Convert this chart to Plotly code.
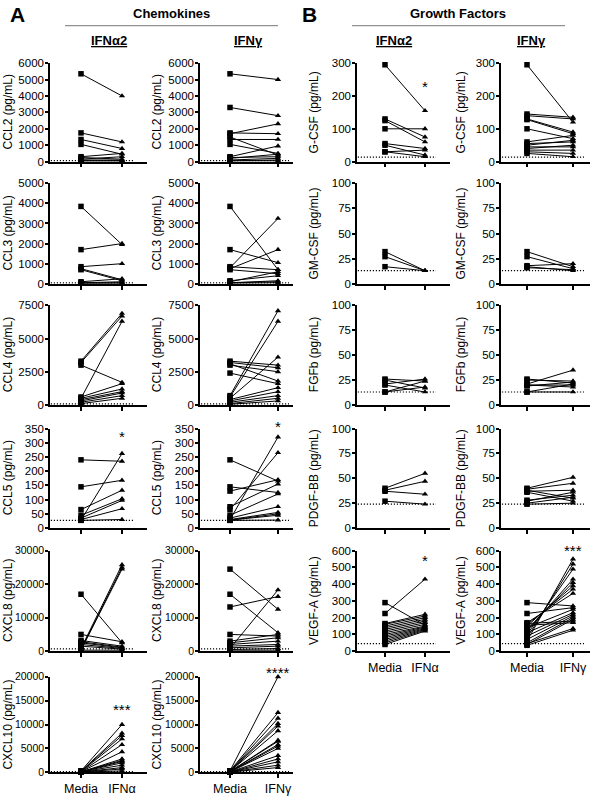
import plotly.graph_objects as go

W, H = 597, 800
FONT = "Arial, Liberation Sans, sans-serif"

# ---------------- data (pg/mL) ----------------
ccl2_a_media = [5350, 1750, 1350, 1050, 300, 250, 150, 100, 50, 50]
ccl2_a_ifn = [4000, 1200, 800, 450, 500, 150, 300, 100, 50, 50]
ccl2_g_media = [5350, 3300, 1750, 1700, 1500, 1350, 1050, 300, 250, 200, 100, 50, 50]
ccl2_g_ifn = [5000, 2800, 1700, 2300, 400, 1350, 500, 950, 300, 450, 200, 100, 50]

ccl3_a_media = [3850, 1700, 850, 750, 700, 100, 50, 30, 30]
ccl3_a_ifn = [1950, 2000, 1000, 200, 150, 250, 100, 50, 30]
ccl3_g_media = [3850, 1700, 850, 800, 750, 700, 150, 100, 50, 50, 30]
ccl3_g_ifn = [700, 1050, 700, 3250, 1700, 500, 400, 600, 150, 100, 50]

ccl4_a_media = [3300, 3200, 3000, 500, 600, 500, 400, 300, 200, 100]
ccl4_a_ifn = [6900, 6700, 1700, 6300, 1600, 1200, 1000, 900, 700, 500]
ccl4_g_media = [700, 600, 3300, 3200, 3100, 3000, 2400, 500, 400, 300, 200, 100, 50]
ccl4_g_ifn = [7100, 6300, 3000, 2800, 1800, 2500, 1600, 3600, 1300, 1000, 700, 500, 300]

ccl5_a_media = [240, 145, 28, 65, 45, 35, 30, 27]
ccl5_a_ifn = [235, 168, 262, 133, 103, 97, 68, 30]
ccl5_g_media = [30, 65, 75, 240, 145, 130, 45, 35, 30, 28, 28, 27]
ccl5_g_ifn = [320, 265, 155, 165, 125, 170, 120, 75, 55, 50, 45, 28]

cxcl8_a_media = [17000, 5000, 800, 500, 300, 3200, 2800, 2500, 2000, 1500, 300]
cxcl8_a_ifn = [2500, 2800, 25800, 25000, 24500, 1500, 1200, 1000, 800, 600, 300]
cxcl8_g_media = [24500, 17000, 13200, 800, 5000, 3000, 2500, 2000, 1500, 1000, 500, 300]
cxcl8_g_ifn = [12500, 5500, 16300, 18300, 4500, 5000, 4000, 3000, 2000, 1500, 800, 300]

cxcl10_a_media = [300, 250, 200, 200, 150, 150, 100, 100, 100, 80, 60, 50, 50, 50]
cxcl10_a_ifn = [10000, 8200, 7700, 7000, 5800, 4300, 2800, 2500, 2300, 2000, 1500, 1000, 700, 300]
cxcl10_g_media = [300, 300, 250, 250, 200, 200, 150, 150, 100, 100, 100, 80, 60, 50, 50, 50]
cxcl10_g_ifn = [20000, 12500, 11300, 10200, 9700, 8700, 6700, 6500, 5800, 5500, 5000, 3500, 2800, 2200, 1500, 1000]

gcsf_a_media = [295, 130, 125, 100, 55, 50, 30, 30]
gcsf_a_ifn = [155, 75, 60, 100, 40, 20, 35, 15]
gcsf_g_media = [295, 145, 140, 130, 128, 100, 60, 55, 50, 45, 40, 35, 30, 25]
gcsf_g_ifn = [120, 135, 130, 90, 85, 70, 80, 60, 65, 45, 50, 35, 25, 15]

gmcsf_a_media = [32, 27, 17]
gmcsf_a_ifn = [13, 13, 13]
gmcsf_g_media = [32, 27, 18, 17, 16]
gmcsf_g_ifn = [17, 15, 20, 13, 14]

fgfb_a_media = [26, 25, 21, 20, 13, 13]
fgfb_a_ifn = [24, 17, 26, 13, 18, 24]
fgfb_g_media = [26, 25, 21, 20, 20, 19, 13, 13]
fgfb_g_ifn = [22, 24, 35, 20, 18, 23, 13, 21]

pdgf_a_media = [40, 38, 37, 27]
pdgf_a_ifn = [55, 47, 34, 24]
pdgf_g_media = [40, 39, 38, 37, 36, 28, 27, 25, 24]
pdgf_g_ifn = [51, 45, 30, 38, 27, 33, 36, 31, 25]

vegf_a_media = [225, 290, 165, 160, 150, 140, 130, 120, 110, 100, 90, 80, 70, 60, 50, 40]
vegf_a_ifn = [430, 155, 220, 210, 200, 190, 180, 170, 160, 150, 145, 140, 135, 130, 125, 120]
vegf_g_media = [60, 80, 100, 120, 130, 150, 160, 170, 290, 225, 140, 110, 90, 70, 50, 40, 165, 155, 45, 35]
vegf_g_ifn = [550, 520, 490, 430, 410, 390, 370, 345, 270, 260, 250, 230, 220, 210, 200, 190, 180, 170, 135, 125]

# limits of detection (dotted lines)
lod_ccl2, lod_ccl3, lod_ccl4, lod_ccl5, lod_cxcl8, lod_cxcl10 = 60, 40, 80, 27, 700, 150
lod_gcsf, lod_gmcsf, lod_fgfb, lod_pdgf, lod_vegf = 14, 13, 13, 24, 45

ticklabels_a = ["Media", "IFNα"]
ticklabels_g = ["Media", "IFNγ"]

# (col, row, y title, media, ifn, lod, ymax, dtick, star text, star y)
panels = [
    (0, 0, "CCL2 (pg/mL)", ccl2_a_media, ccl2_a_ifn, lod_ccl2, 6000, 1000, None, None),
    (1, 0, "CCL2 (pg/mL)", ccl2_g_media, ccl2_g_ifn, lod_ccl2, 6000, 1000, None, None),
    (0, 1, "CCL3 (pg/mL)", ccl3_a_media, ccl3_a_ifn, lod_ccl3, 5000, 1000, None, None),
    (1, 1, "CCL3 (pg/mL)", ccl3_g_media, ccl3_g_ifn, lod_ccl3, 5000, 1000, None, None),
    (0, 2, "CCL4 (pg/mL)", ccl4_a_media, ccl4_a_ifn, lod_ccl4, 7500, 2500, None, None),
    (1, 2, "CCL4 (pg/mL)", ccl4_g_media, ccl4_g_ifn, lod_ccl4, 7500, 2500, None, None),
    (0, 3, "CCL5 (pg/mL)", ccl5_a_media, ccl5_a_ifn, lod_ccl5, 350, 50, "*", 322),
    (1, 3, "CCL5 (pg/mL)", ccl5_g_media, ccl5_g_ifn, lod_ccl5, 350, 50, "*", 358),
    (0, 4, "CXCL8 (pg/mL)", cxcl8_a_media, cxcl8_a_ifn, lod_cxcl8, 30000, 10000, None, None),
    (1, 4, "CXCL8 (pg/mL)", cxcl8_g_media, cxcl8_g_ifn, lod_cxcl8, 30000, 10000, None, None),
    (0, 5, "CXCL10 (pg/mL)", cxcl10_a_media, cxcl10_a_ifn, lod_cxcl10, 20000, 5000, "***", 13200),
    (1, 5, "CXCL10 (pg/mL)", cxcl10_g_media, cxcl10_g_ifn, lod_cxcl10, 20000, 5000, "****", 20900),
    (2, 0, "G-CSF (pg/mL)", gcsf_a_media, gcsf_a_ifn, lod_gcsf, 300, 100, "*", 230),
    (3, 0, "G-CSF (pg/mL)", gcsf_g_media, gcsf_g_ifn, lod_gcsf, 300, 100, None, None),
    (2, 1, "GM-CSF (pg/mL)", gmcsf_a_media, gmcsf_a_ifn, lod_gmcsf, 100, 25, None, None),
    (3, 1, "GM-CSF (pg/mL)", gmcsf_g_media, gmcsf_g_ifn, lod_gmcsf, 100, 25, None, None),
    (2, 2, "FGFb (pg/mL)", fgfb_a_media, fgfb_a_ifn, lod_fgfb, 100, 25, None, None),
    (3, 2, "FGFb (pg/mL)", fgfb_g_media, fgfb_g_ifn, lod_fgfb, 100, 25, None, None),
    (2, 3, "PDGF-BB (pg/mL)", pdgf_a_media, pdgf_a_ifn, lod_pdgf, 100, 25, None, None),
    (3, 3, "PDGF-BB (pg/mL)", pdgf_g_media, pdgf_g_ifn, lod_pdgf, 100, 25, None, None),
    (2, 4, "VEGF-A (pg/mL)", vegf_a_media, vegf_a_ifn, lod_vegf, 600, 100, "*", 540),
    (3, 4, "VEGF-A (pg/mL)", vegf_g_media, vegf_g_ifn, lod_vegf, 600, 100, "***", 600),
]
bottom_rows = {0: 5, 1: 5, 2: 4, 3: 4}

# ---------------- layout geometry (pixels) ----------------
# per column: y-axis x, Media x, IFN x, x-axis end
col_px = [(50, 81, 122, 147), (200, 230, 278, 293), (357, 385, 425, 450), (501, 527, 573, 590)]
row_px = [(58, 158), (180, 282), (304, 405), (429, 530), (553, 655), (681, 778)]
ytitle_x = [8, 157, 314, 461]

fig = go.Figure()
annotations = []
shapes = []
for k, (c, r, title, med, ifn, lod, ymax, dt, star, stary) in enumerate(panels):
    n = k + 1
    xs = "x" if n == 1 else f"x{n}"
    ys = "y" if n == 1 else f"y{n}"
    ax0, pm, pi, ax1 = col_px[c]
    sc = pi - pm
    xr = [(ax0 - pm) / sc, 1 + (ax1 - pi) / sc]
    top, bot = row_px[r]
    lx, ly = [], []
    for m, v in zip(med, ifn):
        lx += [0, 1, None]
        ly += [m, v, None]
    fig.add_trace(go.Scatter(x=lx, y=ly, mode="lines", line=dict(color="black", width=1),
                             xaxis=xs, yaxis=ys, showlegend=False, hoverinfo="skip", cliponaxis=False))
    fig.add_trace(go.Scatter(x=[0] * len(med), y=med, mode="markers",
                             marker=dict(symbol="square", size=5.5, color="black"),
                             xaxis=xs, yaxis=ys, showlegend=False, cliponaxis=False))
    fig.add_trace(go.Scatter(x=[1] * len(ifn), y=ifn, mode="markers",
                             marker=dict(symbol="triangle-up", size=5.5, color="black"),
                             xaxis=xs, yaxis=ys, showlegend=False, cliponaxis=False))
    # dotted LOD line
    fig.add_trace(go.Scatter(x=[xr[0] + 0.02, 1 + 11 / sc], y=[lod, lod], mode="lines",
                             line=dict(color="black", width=1.2, dash="1.2px,1.8px"),
                             xaxis=xs, yaxis=ys, showlegend=False, hoverinfo="skip", cliponaxis=False))
    is_bottom = bottom_rows[c] == r
    labels = ticklabels_a if c in (0, 2) else ticklabels_g
    fig.layout[f"xaxis{n}" if n > 1 else "xaxis"] = dict(
        domain=[ax0 / W, ax1 / W], range=xr, anchor=ys,
        showline=True, linecolor="black", linewidth=1.5, showgrid=False, zeroline=False,
        ticks="outside", ticklen=4, tickwidth=1.5, tickcolor="black",
        tickvals=[0, 1], ticktext=labels if is_bottom else ["", ""],
        tickfont=dict(family=FONT, size=12.5, color="black"), fixedrange=True)
    fig.layout[f"yaxis{n}" if n > 1 else "yaxis"] = dict(
        domain=[1 - bot / H, 1 - top / H], range=[0, ymax], anchor=xs,
        showline=True, linecolor="black", linewidth=1.5, showgrid=False, zeroline=False,
        ticks="outside", ticklen=3, tickwidth=1.5, tickcolor="black", dtick=dt, tick0=0,
        tickformat="d", separatethousands=False, ticklabelstandoff=-1,
        tickfont=dict(family=FONT, size=11.5 if ymax < 10000 else 10.5, color="black"),
        fixedrange=True)
    annotations.append(dict(x=ytitle_x[c] / W, y=1 - (top + bot) / 2 / H, xref="paper", yref="paper",
                            text=title, textangle=-90, showarrow=False,
                            font=dict(family=FONT, size=12, color="black"),
                            xanchor="center", yanchor="middle"))
    if star:
        py = bot - stary / ymax * (bot - top)
        annotations.append(dict(x=pi / W, y=1 - py / H, xref="paper", yref="paper", text=star,
                                showarrow=False, font=dict(family=FONT, size=15, color="#000000"),
                                xanchor="center", yanchor="middle"))

# headers
hdr = [
    ("<b>A</b>", 17, 9, 21),
    ("<b>B</b>", 309, 9, 21),
    ("<b>Chemokines</b>", 171, 8, 13),
    ("<b>Growth Factors</b>", 458, 8, 13),
    ("<b><u>IFNα2</u></b>", 109, 35, 13),
    ("<b><u>IFNγ</u></b>", 248, 35, 13),
    ("<b><u>IFNα2</u></b>", 394, 35, 13),
    ("<b><u>IFNγ</u></b>", 531, 35, 13),
]
for t, x, y, s in hdr:
    annotations.append(dict(x=x / W, y=1 - y / H, xref="paper", yref="paper", text=t, showarrow=False,
                            font=dict(family=FONT, size=s, color="black"),
                            xanchor="center", yanchor="middle"))
for x0, x1 in [(65, 278), (352, 565)]:
    shapes.append(dict(type="line", xref="paper", yref="paper", x0=x0 / W, x1=x1 / W,
                       y0=1 - 20 / H, y1=1 - 20 / H, line=dict(color="#777777", width=1)))

fig.update_layout(width=W, height=H, margin=dict(l=0, r=0, t=0, b=0),
                  paper_bgcolor="white", plot_bgcolor="white",
                  annotations=annotations, shapes=shapes, showlegend=False)
fig.write_html("out.html", post_script="document.body.style.margin='0';",
               config={"displayModeBar": False})
